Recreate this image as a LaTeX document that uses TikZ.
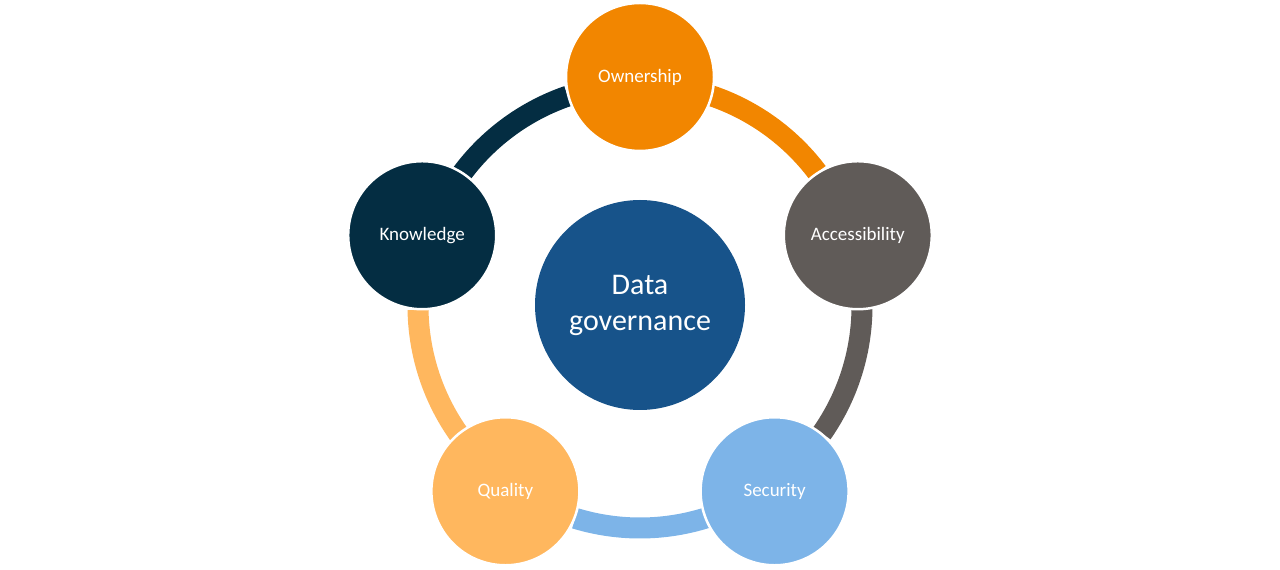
\documentclass[tikz,border=0pt]{standalone}
\usepackage{fontspec}
\setmainfont{Carlito}
\usetikzlibrary{positioning}

\definecolor{owncol}{RGB}{242,134,0}
\definecolor{acccol}{RGB}{96,91,88}
\definecolor{seccol}{RGB}{125,180,232}
\definecolor{qualcol}{RGB}{255,183,94}
\definecolor{knowcol}{RGB}{4,45,66}
\definecolor{datacol}{RGB}{23,83,138}

\begin{document}
\begin{tikzpicture}[x=1pt,y=1pt,
    part/.style={circle,fill=#1,draw=white,line width=2.5pt,minimum size=148pt,inner sep=0pt,
        text=white,font=\fontsize{19}{23}\selectfont},
    band/.style={draw=#1,line width=21pt}]
    \useasboundingbox (0,0) rectangle (1280,570);
    \coordinate (c) at (640,264);
    % ring pieces, each from one circle to the next
    \draw[band=owncol] ([shift={(90:222)}]c) arc[start angle=90, end angle=37, radius=222];
    \draw[band=acccol] ([shift={(18:222)}]c) arc[start angle=18, end angle=-35, radius=222];
    \draw[band=seccol] ([shift={(-54:222)}]c) arc[start angle=-54, end angle=-107, radius=222];
    \draw[band=qualcol] ([shift={(-126:222)}]c) arc[start angle=-126, end angle=-179, radius=222];
    \draw[band=knowcol] ([shift={(162:222)}]c) arc[start angle=162, end angle=109, radius=222];
    % circles
    \node[part=owncol] (own) at ([shift={(90:229)}]c) {Ownership};
    \node[part=acccol] (acc) at ([shift={(18:229)}]c) {Accessibility};
    \node[part=seccol] (sec) at ([shift={(-54:229)}]c) {Security};
    \node[part=qualcol] (qual) at ([shift={(-126:229)}]c) {Quality};
    \node[part=knowcol] (know) at ([shift={(162:229)}]c) {Knowledge};
    \node[circle,fill=datacol,minimum size=210pt,inner sep=0pt,text=white,align=center,
        font=\fontsize{30}{36}\selectfont] (data) at (640,265) {Data\\governance};
\end{tikzpicture}
\end{document}
